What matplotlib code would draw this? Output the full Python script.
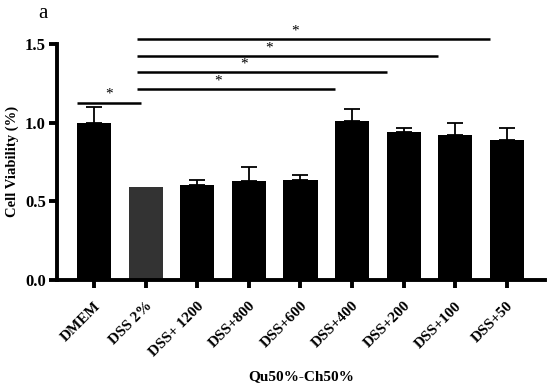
import matplotlib.pyplot as plt
import numpy as np

plt.rcParams['font.family'] = ['Liberation Serif', 'DejaVu Serif']
plt.rcParams['font.weight'] = 'bold'

groups = ['DMEM', 'DSS 2%', 'DSS+ 1200', 'DSS+800', 'DSS+600',
          'DSS+400', 'DSS+200', 'DSS+100', 'DSS+50']
means = [1.00, 0.593, 0.604, 0.628, 0.637, 1.013, 0.943, 0.924, 0.888]
upper = [1.100, 0.593, 0.636, 0.718, 0.667, 1.083, 0.966, 0.996, 0.966]
colors = ['black', '#333333'] + ['black'] * 7

# significance brackets: (from group, to group, height)
sig = [(0, 1, 1.127), (1, 5, 1.212), (1, 6, 1.32), (1, 7, 1.42), (1, 8, 1.528)]

x = np.arange(len(groups))
err = np.array(upper) - np.array(means)
has_err = err > 0

fig = plt.figure(figsize=(5.5, 3.85), dpi=100)
ax = fig.add_axes([0.1036, 0.273, 0.8874, 0.613])

ax.bar(x, means, width=0.66, color=colors, zorder=2)
ax.errorbar(x[has_err], np.array(means)[has_err],
            yerr=[np.zeros(has_err.sum()), err[has_err]], fmt='none',
            ecolor='black', elinewidth=1.3, capsize=6, capthick=1.3, zorder=1)

for a, b, h in sig:
    if a == 0:
        x0, x1 = a - 0.33, b - 0.1
    else:
        x0, x1 = a - 0.17, b - 0.33
    ax.plot([x0, x1], [h, h], color='black', lw=1.8, clip_on=False,
            solid_capstyle='butt')
    ax.text((x0 + x1) / 2 - (0.35 if a else 0), h + 0.012, '*', ha='center',
            va='bottom', fontsize=11, fontweight='normal')

ax.set_xlim(-0.72, 8.74)
ax.set_ylim(0, 1.5)
ax.set_yticks([0, 0.5, 1.0, 1.5])
ax.set_yticklabels(['0.0', '0.5', '1.0', '1.5'], fontsize=12, fontweight='bold')
ax.set_xticks(x)
ax.set_xticklabels(groups, rotation=45, ha='right', rotation_mode='anchor',
                   fontsize=11, fontweight='bold')

for s in ['top', 'right']:
    ax.spines[s].set_visible(False)
for s in ['left', 'bottom']:
    ax.spines[s].set_linewidth(2.8)
ax.tick_params(axis='both', width=2.8, length=6, direction='out')
ax.tick_params(axis='y', pad=2)
ax.tick_params(axis='x', pad=8)

ax.set_ylabel('Cell Viability (%)', fontsize=10.5, fontweight='bold', labelpad=4)
ax.set_xlabel('Qu50%-Ch50%', fontsize=11, fontweight='bold', labelpad=8)
fig.text(0.078, 0.965, 'a', fontsize=15, fontweight='normal', ha='center', va='center')

fig.savefig('out.png', dpi=100)
